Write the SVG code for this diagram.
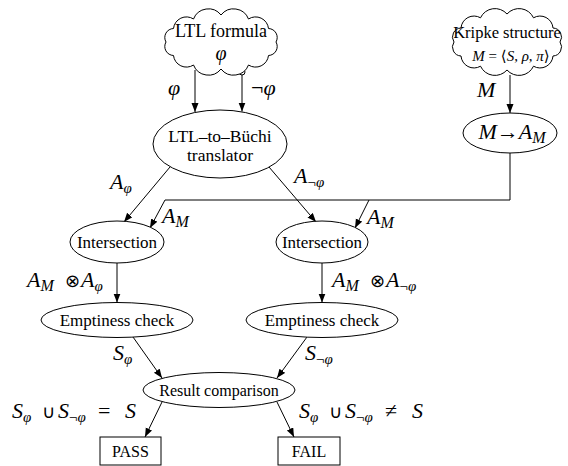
<svg xmlns="http://www.w3.org/2000/svg" width="568" height="466" viewBox="0 0 568 466">
<defs>
<marker id="ah" markerWidth="10" markerHeight="8" refX="9" refY="3.5" orient="auto" markerUnits="userSpaceOnUse">
<path d="M0,0 L9,3.5 L0,7 z" fill="#000"/>
</marker>
<style>
.sh{fill:#fff;stroke:#000;stroke-width:1}
.t{font-family:"Liberation Serif","Times New Roman",serif;fill:#000;text-anchor:middle}
.m{font-family:"Liberation Serif","DejaVu Serif",serif;font-style:italic;font-size:22px;fill:#000}
.s{font-size:15px}
.sm{font-size:16px}
.r{font-style:normal}
.op{font-style:normal;font-family:"DejaVu Sans","DejaVu Serif",sans-serif;font-size:18px}
.c{fill:none;stroke:#000;stroke-width:1}
.a{marker-end:url(#ah)}
</style>
</defs>
<rect width="568" height="466" fill="#fff"/>
<g id="connectors">
<line class="c a" x1="195" y1="70" x2="195" y2="112"/>
<line class="c a" x1="242" y1="75" x2="242" y2="111.5"/>
<circle cx="242" cy="72" r="3" fill="#fff" stroke="#000"/>
<line class="c a" x1="510" y1="75" x2="510" y2="113"/>
<polyline class="c a" points="510,153 510,200 165,200 150,228"/>
<line class="c a" x1="369" y1="200" x2="355" y2="228"/>
<line class="c a" x1="170" y1="167" x2="124" y2="222"/>
<line class="c a" x1="269" y1="167" x2="316" y2="222"/>
<line class="c a" x1="117" y1="263" x2="117" y2="302.5"/>
<line class="c a" x1="322" y1="263" x2="322" y2="302.5"/>
<line class="c a" x1="133" y1="337" x2="162" y2="378"/>
<line class="c a" x1="307" y1="337" x2="277" y2="378"/>
<line class="c a" x1="162" y1="402" x2="145" y2="437"/>
<line class="c a" x1="277" y1="402" x2="294" y2="437"/>
<text class="m" x="168" y="95">φ</text>
<text class="m" x="251" y="95"><tspan class="r">¬</tspan>φ</text>
<text class="m" x="477" y="97">M</text>
<text class="m" x="110" y="189">A<tspan class="s" x="123.5" dy="4">φ</tspan></text>
<text class="m" x="294" y="183">A<tspan class="s" x="307.5" dy="4"><tspan class="r">¬</tspan>φ</tspan></text>
<text class="m" x="162" y="223">A<tspan class="sm" x="175.5" dy="4">M</tspan></text>
<text class="m" x="367" y="224">A<tspan class="sm" x="380.5" dy="4">M</tspan></text>
<text class="m" x="27" y="287">A<tspan class="sm" x="40.5" dy="4">M</tspan><tspan class="op" x="65" dy="-4">⊗</tspan><tspan x="81">A</tspan><tspan class="s" x="94.5" dy="4">φ</tspan></text>
<text class="m" x="332" y="287">A<tspan class="sm" x="345.5" dy="4">M</tspan><tspan class="op" x="370" dy="-4">⊗</tspan><tspan x="386">A</tspan><tspan class="s" x="399.5" dy="4"><tspan class="r">¬</tspan>φ</tspan></text>
<text class="m" x="113" y="360">S<tspan class="s" x="124" dy="4">φ</tspan></text>
<text class="m" x="305" y="360">S<tspan class="s" x="316" dy="4"><tspan class="r">¬</tspan>φ</tspan></text>
<text class="m" x="12" y="418">S<tspan class="s" x="23" dy="4">φ</tspan><tspan class="op" x="42" dy="-4">∪</tspan><tspan x="58">S</tspan><tspan class="s" x="69" dy="4"><tspan class="r">¬</tspan>φ</tspan><tspan class="r" x="98" dy="-4">=</tspan><tspan x="125">S</tspan></text>
<text class="m" x="299" y="418">S<tspan class="s" x="310" dy="4">φ</tspan><tspan class="op" x="329" dy="-4">∪</tspan><tspan x="345">S</tspan><tspan class="s" x="356" dy="4"><tspan class="r">¬</tspan>φ</tspan><tspan class="r" x="385" dy="-4">≠</tspan><tspan x="412">S</tspan></text>
</g>
<g id="ltl">
<path class="sh" d="M276,42 A9,9 0 0 1 268.5,55.5 A13,13 0 0 1 248.5,65 A16,16 0 0 1 221,69 A16,16 0 0 1 193.5,65 A13,13 0 0 1 173.5,55.5 A9,9 0 0 1 166,42 A9,9 0 0 1 173.5,28.5 A13,13 0 0 1 193.5,19 A16,16 0 0 1 221,15 A16,16 0 0 1 248.5,19 A13,13 0 0 1 268.5,28.5 A9,9 0 0 1 276,42 Z"/>
<text class="t" x="221" y="37" font-size="18">LTL formula</text>
<text class="m" x="221" y="60" text-anchor="middle" style="font-size:20px">φ</text>
</g>
<g id="kripke">
<path class="sh" d="M560,42 A9,9 0 0 1 553,56 A13,13 0 0 1 533.5,66.2 A16,16 0 0 1 507,70 A16,16 0 0 1 480.5,66.2 A13,13 0 0 1 461,56 A9,9 0 0 1 454,42 A9,9 0 0 1 461,28 A13,13 0 0 1 480.5,17.8 A16,16 0 0 1 507,14 A16,16 0 0 1 533.5,17.8 A13,13 0 0 1 553,28 A9,9 0 0 1 560,42 Z"/>
<text class="t" x="507" y="38" font-size="16.5">Kripke structure</text>
<text class="m" x="511" y="61" text-anchor="middle" style="font-size:15px">M<tspan class="r"> = </tspan><tspan class="op" style="font-size:15px">⟨</tspan>S<tspan class="r">, </tspan>ρ<tspan class="r">, </tspan>π<tspan class="op" style="font-size:15px">⟩</tspan></text>
</g>
<g id="buchi">
<ellipse class="sh" cx="220" cy="144" rx="67" ry="34"/>
<text class="t" x="220" y="142" font-size="17.5">LTL–to–Büchi</text>
<text class="t" x="220" y="161" font-size="17.5">translator</text>
</g>
<g id="m2a">
<ellipse class="sh" cx="510" cy="133" rx="47" ry="20"/>
<text class="m" x="512" y="139" text-anchor="middle">M<tspan class="r">→</tspan>A<tspan class="sm" dy="4">M</tspan></text>
</g>
<g id="inter1">
<ellipse class="sh" cx="117" cy="242" rx="47" ry="21"/>
<text class="t" x="117" y="248" font-size="17">Intersection</text>
</g>
<g id="inter2">
<ellipse class="sh" cx="322" cy="242" rx="46" ry="21"/>
<text class="t" x="322" y="248" font-size="17">Intersection</text>
</g>
<g id="empty1">
<ellipse class="sh" cx="117" cy="320" rx="76" ry="17.5"/>
<text class="t" x="117" y="326" font-size="17">Emptiness check</text>
</g>
<g id="empty2">
<ellipse class="sh" cx="322" cy="320" rx="76" ry="17.5"/>
<text class="t" x="322" y="326" font-size="17">Emptiness check</text>
</g>
<g id="result">
<ellipse class="sh" cx="219" cy="390" rx="76" ry="17.5"/>
<text class="t" x="219" y="396" font-size="16">Result comparison</text>
</g>
<g id="pass">
<rect class="sh" x="100" y="437" width="61" height="28"/>
<text class="t" x="130.5" y="457" font-size="16">PASS</text>
</g>
<g id="fail">
<rect class="sh" x="278" y="437" width="62" height="28"/>
<text class="t" x="309" y="457" font-size="16">FAIL</text>
</g>
</svg>
